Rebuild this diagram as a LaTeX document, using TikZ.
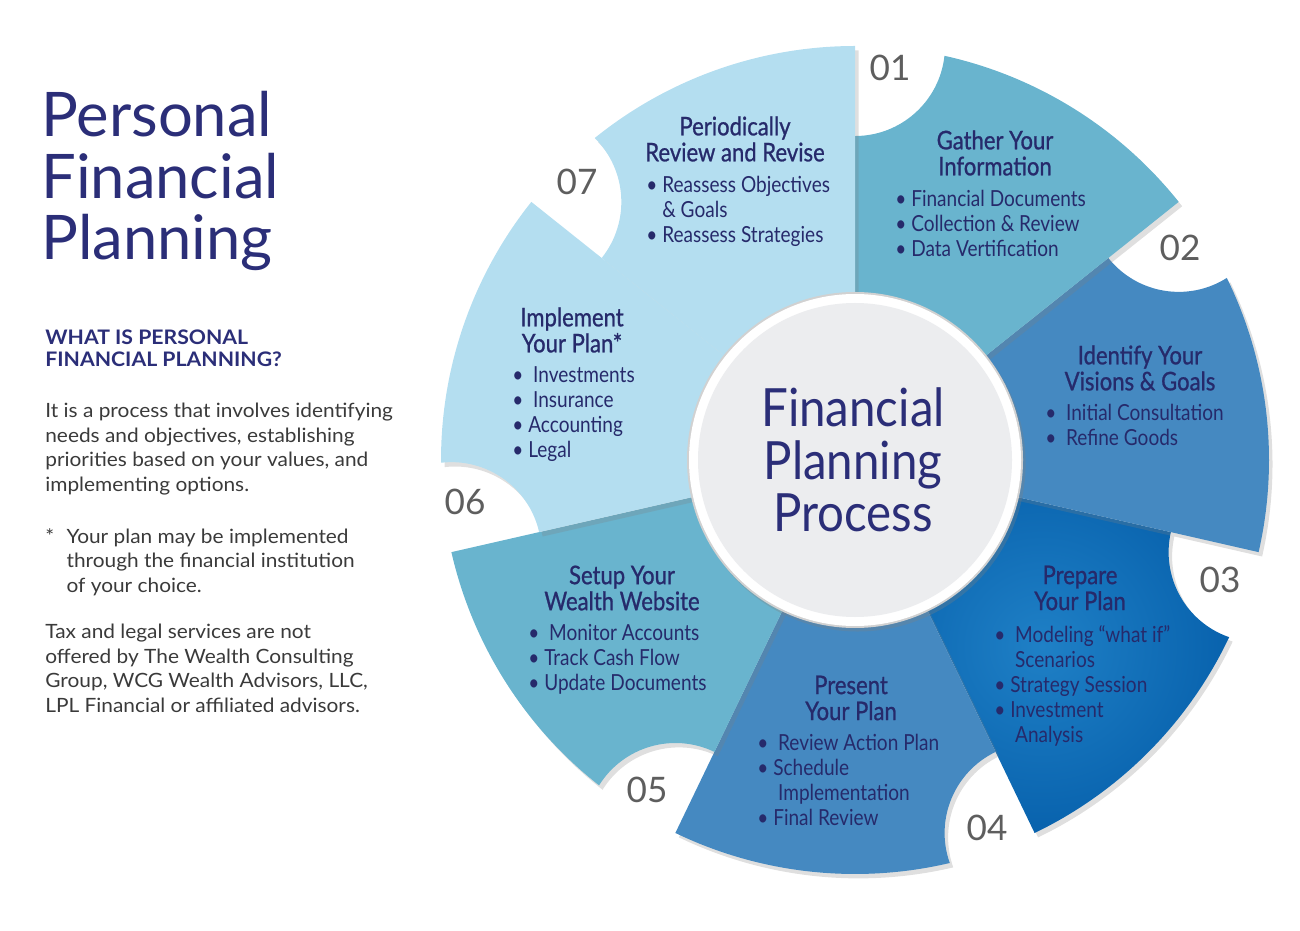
\documentclass[tikz,border=0pt]{standalone}
\usepackage{fontspec}
\setmainfont{Lato}
\newfontfamily\narrowfont[FakeStretch=0.86]{Lato}
\newfontfamily\headfont[FakeStretch=0.86, FakeBold=0.9]{Lato}
\newfontfamily\discfont[FakeStretch=0.9]{Lato}
\newfontfamily\widefont[FakeStretch=1.06]{Lato}
\usetikzlibrary{shadows}

\definecolor{navy}{HTML}{2B2E78}
\definecolor{textnavy}{HTML}{262A6B}
\definecolor{numgray}{HTML}{5E5E5E}
\definecolor{bodygray}{HTML}{3A3A3A}
\definecolor{paleblue}{HTML}{B4DEF0}
\definecolor{tealblue}{HTML}{69B4CE}
\definecolor{midblue}{HTML}{4589C1}
\definecolor{deepblue}{HTML}{0D6CB7}
\definecolor{deepblueedge}{HTML}{0862AD}
\definecolor{deepbluemid}{HTML}{1F80C6}
\definecolor{discgray}{HTML}{ECEDEF}

% one wedge of the wheel, #2 = angle of the notched side
\def\wheelpart[#1](#2){\draw[#1] (0,0) -- (#2-51.43:414) arc[start angle=#2-51.43, end angle=#2-12.48, radius=414] arc[start angle=#2-96.24, end angle=#2-180, radius=90] -- cycle;}

\tikzset{
	wedge/.style={draw=none, drop shadow={shadow xshift=2pt, shadow yshift=-2.5pt, opacity=0.25}},
	steptitle/.style={font=\headfont\fontsize{14.6}{14.8}\selectfont, text=textnavy, align=center, inner sep=0pt},
	steplist/.style={font=\narrowfont\fontsize{12.6}{14.2}\selectfont, text=textnavy, align=left, anchor=north west, inner sep=0pt},
	stepnum/.style={font=\fontsize{20}{20}\selectfont, text=numgray, inner sep=0pt},
	bodytext/.style={font=\widefont\fontsize{11.2}{13.9}\selectfont, text=bodygray, align=left, anchor=north west, inner sep=0pt},
}

\begin{document}
\begin{tikzpicture}[x=0.02cm, y=0.02cm]
		%%%%% START %%%%%
		\useasboundingbox (0, 0) rectangle (1300, 930);
		
		% left column
		\node[font=\fontsize{35}{35}\selectfont, text=navy, align=left, anchor=north west, inner sep=0pt] (title) at (41, 839) {Personal\\Financial\\Planning};
		\node[font=\widefont\bfseries\fontsize{11.4}{12.5}\selectfont, text=navy, align=left, anchor=north west, inner sep=0pt] (whatis) at (45, 600) {WHAT IS PERSONAL\\FINANCIAL PLANNING?};
		\node[bodytext] (intro) at (45, 527) {It is a process that involves identifying\\needs and objectives, establishing\\priorities based on your values, and\\implementing options.};
		\node[bodytext] (footnote) at (45, 404) {\begin{tabular}{@{}l@{\hspace{7pt}}l@{}}*&Your plan may be implemented\\&through the financial institution\\&of your choice.\end{tabular}};
		\node[bodytext] (disclaimer) at (45, 306) {Tax and legal services are not\\offered by The Wealth Consulting\\Group, WCG Wealth Advisors, LLC,\\LPL Financial or affiliated advisors.};
		
		% the wheel
		\begin{scope}[shift={(855, 470)}]
			\wheelpart[wedge, inner color=deepbluemid, outer color=deepblueedge](-12.86);
			\wheelpart[wedge, fill=midblue](38.57);
			\wheelpart[wedge, fill=tealblue](90);
			\wheelpart[wedge, fill=paleblue](141.43);
			\wheelpart[wedge, fill=midblue](-64.29);
			\wheelpart[wedge, fill=tealblue](-115.71);
			\wheelpart[wedge, fill=paleblue](-167.14);
			
			\fill[black!18, drop shadow={shadow xshift=1.5pt, shadow yshift=-2pt, opacity=0.3}] (0, 0) circle (168);
			\fill[white] (0, 0) circle (166);
			\fill[discgray] (0, 0) circle (157);
		\end{scope}
		
		\node[font=\discfont\fontsize{30}{30}\selectfont, text=navy, align=center, inner sep=0pt] (hub) at (853, 470) {Financial\\Planning\\Process};
		
		% numbers
		\node[stepnum] (n01) at (890, 862) {01};
		\node[stepnum] (n02) at (1180, 682) {02};
		\node[stepnum] (n03) at (1220, 350) {03};
		\node[stepnum] (n04) at (987, 102) {04};
		\node[stepnum] (n05) at (647, 140) {05};
		\node[stepnum] (n06) at (465, 428) {06};
		\node[stepnum] (n07) at (577, 748) {07};
		
		% texts of the steps
		\node[steptitle] (gather) at (995, 777) {Gather Your\\Information};
		\node[steplist] (gatherlist) at (895, 740) {\textbullet~Financial Documents\\\textbullet~Collection \& Review\\\textbullet~Data Vertification};
		
		\node[steptitle] (identify) at (1140, 562) {Identify Your\\Visions \& Goals};
		\node[steplist] (identifylist) at (1045, 526) {\textbullet~~Initial Consultation\\\textbullet~~Refine Goods};
		
		\node[steptitle] (prepare) at (1080, 342) {Prepare\\Your Plan};
		\node[steplist] (preparelist) at (994, 305) {\textbullet~~Modeling “what if”\\\phantom{\textbullet~~}Scenarios\\\textbullet~Strategy Session\\\textbullet~Investment\\\phantom{\textbullet~~}Analysis};
		
		\node[steptitle] (present) at (851, 232) {Present\\Your Plan};
		\node[steplist] (presentlist) at (757, 196) {\textbullet~~Review Action Plan\\\textbullet~Schedule\\\phantom{\textbullet~~}Implementation\\\textbullet~Final Review};
		
		\node[steptitle] (setup) at (622, 342) {Setup Your\\Wealth Website};
		\node[steplist] (setuplist) at (528, 306) {\textbullet~~Monitor Accounts\\\textbullet~Track Cash Flow\\\textbullet~Update Documents};
		
		\node[steptitle] (implement) at (572, 600) {Implement\\Your Plan*};
		\node[steplist] (implementlist) at (512, 564) {\textbullet~~Investments\\\textbullet~~Insurance\\\textbullet~Accounting\\\textbullet~Legal};
		
		\node[steptitle] (review) at (735, 791) {Periodically\\Review and Revise};
		\node[steplist] (reviewlist) at (646, 754) {\textbullet~Reassess Objectives\\\phantom{\textbullet~}\& Goals\\\textbullet~Reassess Strategies};
		
		%%%%% END %%%%%
	\end{tikzpicture}
\end{document}
